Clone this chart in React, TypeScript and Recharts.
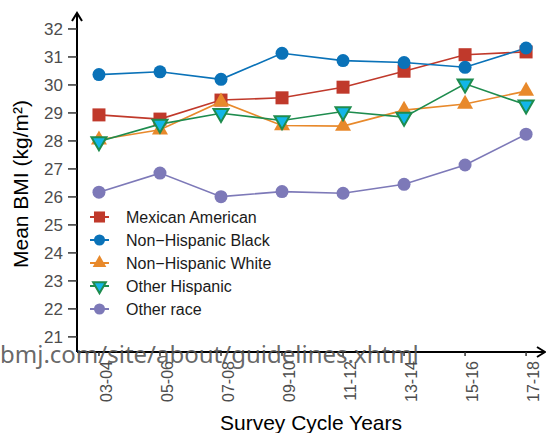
import React from 'react';
import { LineChart, Line, XAxis, YAxis, Legend, Label } from 'recharts';

const cycles = ['03-04', '05-06', '07-08', '09-10', '11-12', '13-14', '15-16', '17-18'];
const mexicanAmerican = [28.93, 28.78, 29.46, 29.54, 29.92, 30.49, 31.08, 31.18];
const nonHispanicBlack = [30.37, 30.47, 30.2, 31.13, 30.87, 30.8, 30.63, 31.32];
const nonHispanicWhite = [28.04, 28.4, 29.4, 28.55, 28.53, 29.1, 29.32, 29.78];
const otherHispanic = [27.98, 28.6, 28.99, 28.73, 29.05, 28.85, 30.04, 29.29];
const otherRace = [26.17, 26.85, 26.01, 26.19, 26.13, 26.45, 27.14, 28.24];
const bmiTicks = [21, 22, 23, 24, 25, 26, 27, 28, 29, 30, 31, 32];

const data = cycles.map((cycle, i) => ({
  i,
  cycle,
  ma: mexicanAmerican[i],
  nhb: nonHispanicBlack[i],
  nhw: nonHispanicWhite[i],
  oh: otherHispanic[i],
  or: otherRace[i],
}));

type ShapeKind = 'square' | 'circle' | 'up' | 'down';

const series: { key: string; name: string; color: string; fill: string; shape: ShapeKind }[] = [
  { key: 'ma', name: 'Mexican American', color: '#c0392b', fill: '#c0392b', shape: 'square' },
  { key: 'nhb', name: 'Non\u2212Hispanic Black', color: '#0a72b8', fill: '#0a72b8', shape: 'circle' },
  { key: 'nhw', name: 'Non\u2212Hispanic White', color: '#e8892b', fill: '#e8892b', shape: 'up' },
  { key: 'oh', name: 'Other Hispanic', color: '#1e8c4e', fill: '#12b6e8', shape: 'down' },
  { key: 'or', name: 'Other race', color: '#7d79b8', fill: '#7d79b8', shape: 'circle' },
];

const FONT = '"Liberation Sans", Arial, sans-serif';

function Marker({ cx, cy, shape, color, fill, scale = 1 }: { cx: number; cy: number; shape: ShapeKind; color: string; fill: string; scale?: number }) {
  if (cx == null || cy == null) return null;
  if (shape === 'square') {
    const s = 6.5 * scale;
    return <rect x={cx - s} y={cy - s} width={s * 2} height={s * 2} fill={fill} />;
  }
  if (shape === 'circle') {
    return <circle cx={cx} cy={cy} r={6.5 * scale} fill={fill} />;
  }
  if (shape === 'up') {
    const w = 8 * scale;
    const h = 14 * scale;
    return <path d={`M${cx},${cy - (h * 2) / 3} L${cx + w},${cy + h / 3} L${cx - w},${cy + h / 3} Z`} fill={fill} />;
  }
  const w = 7.5 * scale;
  const h = 13 * scale;
  return (
    <path
      d={`M${cx},${cy + (h * 2) / 3} L${cx + w},${cy - h / 3} L${cx - w},${cy - h / 3} Z`}
      fill={fill}
      stroke={color}
      strokeWidth={2}
      strokeLinejoin="miter"
    />
  );
}

const renderLegend = () => (
  <svg width={200} height={120}>
    {series.map((s, idx) => {
      const y = 12 + idx * 23;
      return (
        <g key={s.key}>
          <line x1={2} x2={21} y1={y} y2={y} stroke={s.color} strokeWidth={2} />
          <Marker cx={11.5} cy={y} shape={s.shape} color={s.color} fill={s.fill} scale={0.85} />
          <text x={38} y={y + 5.5} fontSize={16} fontFamily={FONT} fill="#1a1a1a">
            {s.name}
          </text>
        </g>
      );
    })}
  </svg>
);

const CycleTick = ({ x, y, payload }: any) => (
  <text
    transform={`translate(${x + 13},${y + 3}) rotate(-90)`}
    textAnchor="end"
    fontSize={16}
    fontFamily={FONT}
    fill="#4d4d4d"
  >
    {cycles[payload.value]}
  </text>
);

export default function App() {
  return (
    <div style={{ position: 'absolute', left: 0, top: 0, width: 546, height: 433, background: '#fff' }}>
      <LineChart width={546} height={433} data={data} margin={{ top: 13, right: 1, left: 0, bottom: 0 }}>
        <defs>
          <marker id="arrowHead" viewBox="0 0 12 12" refX="10" refY="6" markerWidth="12" markerHeight="12" markerUnits="userSpaceOnUse" orient="auto-start-reverse">
            <path d="M2,1 L10,6 L2,11" fill="none" stroke="#000" strokeWidth={2} />
          </marker>
        </defs>
        <XAxis
          type="number"
          dataKey="i"
          domain={[-0.36, 7.31]}
          ticks={[0, 1, 2, 3, 4, 5, 6, 7]}
          allowDataOverflow
          height={81}
          axisLine={{ stroke: '#000', strokeWidth: 2, markerEnd: 'url(#arrowHead)' }}
          tickLine={{ stroke: '#333', strokeWidth: 1.5 }}
          tickSize={4}
          tickMargin={2}
          tick={<CycleTick />}
          interval={0}
        >
          <Label
            content={() => (
              <text x={311} y={430} textAnchor="middle" fontSize={21} fontFamily={FONT} fill="#000">
                Survey Cycle Years
              </text>
            )}
          />
        </XAxis>
        <YAxis
          type="number"
          domain={[20.46, 32.57]}
          ticks={bmiTicks}
          allowDataOverflow
          width={77}
          axisLine={{ stroke: '#000', strokeWidth: 2, markerStart: 'url(#arrowHead)' }}
          tickLine={{ stroke: '#333', strokeWidth: 1.5 }}
          tickSize={9}
          tickMargin={5}
          tick={{ fontSize: 17, fontFamily: FONT, fill: '#4d4d4d' }}
          interval={0}
        >
          <Label
            content={() => (
              <text transform="translate(28,184) rotate(-90)" textAnchor="middle" fontSize={21} fontFamily={FONT} fill="#000">
                Mean BMI (kg/m²)
              </text>
            )}
          />
        </YAxis>
        {series.map((s) => (
          <Line
            key={s.key}
            dataKey={s.key}
            name={s.name}
            stroke={s.color}
            strokeWidth={1.6}
            type="linear"
            isAnimationActive={false}
            dot={(p: any) => <Marker key={`${s.key}-${p.index}`} cx={p.cx} cy={p.cy} shape={s.shape} color={s.color} fill={s.fill} />}
            activeDot={false}
          />
        ))}
        <Legend
          layout="vertical"
          align="center"
          verticalAlign="middle"
          content={renderLegend}
          wrapperStyle={{ left: 88, top: 205, width: 200, height: 120 }}
        />
      </LineChart>
      <svg width={546} height={433} style={{ position: 'absolute', left: 0, top: 0, pointerEvents: 'none' }}>
        <text x={0} y={363} fontSize={24} fontFamily='"Noto Sans", sans-serif' fill="#555555" fillOpacity={0.9}>
          bmj.com/site/about/guidelines.xhtml
        </text>
      </svg>
    </div>
  );
}
